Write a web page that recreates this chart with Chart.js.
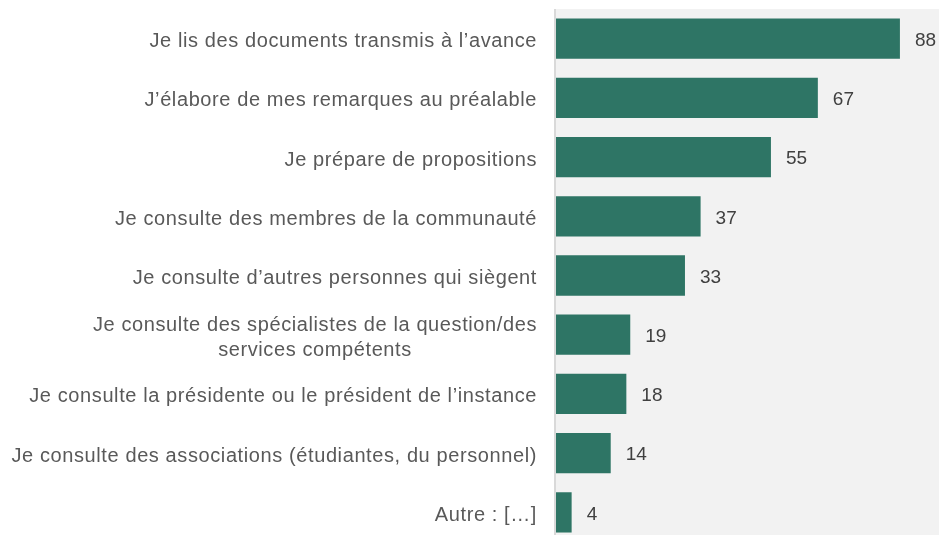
<!DOCTYPE html>
<html>
<head>
<meta charset="utf-8">
<script src="https://cdn.jsdelivr.net/npm/chart.js@4.4.1/dist/chart.umd.min.js"></script>
<style>
  html, body { margin: 0; padding: 0; background: #ffffff; overflow: hidden; }
  #wrap { width: 939px; height: 542px; position: relative; }
</style>
</head>
<body>
<div id="wrap"><canvas id="c" width="939" height="542"></canvas></div>
<script>
const categories = [
  ["Je lis des documents transmis à l’avance"],
  ["J’élabore de mes remarques au préalable"],
  ["Je prépare de propositions"],
  ["Je consulte des membres de la communauté"],
  ["Je consulte d’autres personnes qui siègent"],
  ["Je consulte des spécialistes de la question/des", "services compétents"],
  ["Je consulte la présidente ou le président de l’instance"],
  ["Je consulte des associations (étudiantes, du personnel)"],
  ["Autre : […]"]
];
const values = [88, 67, 55, 37, 33, 19, 18, 14, 4];
const axisMax = 98;

const FONT = '"Liberation Sans", Arial, sans-serif';

const bgPlugin = {
  id: 'bg',
  beforeDraw(chart) {
    const { ctx, chartArea: a } = chart;
    ctx.save();
    ctx.fillStyle = '#f2f2f2';
    ctx.fillRect(a.left - 2, a.top, a.right - a.left + 2, a.bottom - a.top);
    ctx.fillStyle = '#d9d9d9';
    ctx.fillRect(a.left - 2, a.top, 2, a.bottom - a.top);
    ctx.restore();
  }
};

const labelPlugin = {
  id: 'labels',
  afterDatasetsDraw(chart) {
    const { ctx } = chart;
    const yScale = chart.scales.y;
    const meta = chart.getDatasetMeta(0);
    ctx.save();
    // category labels
    ctx.font = '20px ' + FONT;
    ctx.letterSpacing = '0.6px';
    ctx.fillStyle = '#595959';
    ctx.textAlign = 'left';
    ctx.textBaseline = 'middle';
    const rightEdge = 537;
    const lh = 25;
    categories.forEach((lines, i) => {
      const yc = yScale.getPixelForTick(i);
      const widths = lines.map(l => ctx.measureText(l).width);
      const w = Math.max(...widths);
      const cx = rightEdge - w / 2;
      const y0 = yc - (lines.length - 1) * lh / 2 + 3;
      lines.forEach((l, k) => ctx.fillText(l, cx - widths[k] / 2, y0 + k * lh));
    });
    // value labels
    ctx.letterSpacing = '0px';
    ctx.font = '19px ' + FONT;
    ctx.fillStyle = '#404040';
    ctx.textAlign = 'left';
    meta.data.forEach((bar, i) => {
      ctx.fillText(String(values[i]), bar.x + 15, bar.y + 2);
    });
    ctx.restore();
  }
};

new Chart(document.getElementById('c'), {
  type: 'bar',
  data: {
    labels: categories,
    datasets: [{
      data: values,
      backgroundColor: '#2e7565',
      borderWidth: 0,
      barPercentage: 0.68,
      categoryPercentage: 1.0
    }]
  },
  options: {
    indexAxis: 'y',
    responsive: false,
    animation: false,
    layout: { padding: { top: 9, bottom: 0, left: 0, right: 0 } },
    plugins: { legend: { display: false }, tooltip: { enabled: false } },
    scales: {
      x: {
        display: false,
        min: 0,
        max: axisMax
      },
      y: {
        display: true,
        grid: { display: false, drawTicks: false },
        border: { display: false },
        ticks: { display: false },
        afterFit(scale) { scale.width = 556; }
      }
    }
  },
  plugins: [bgPlugin, labelPlugin]
});
</script>
</body>
</html>
